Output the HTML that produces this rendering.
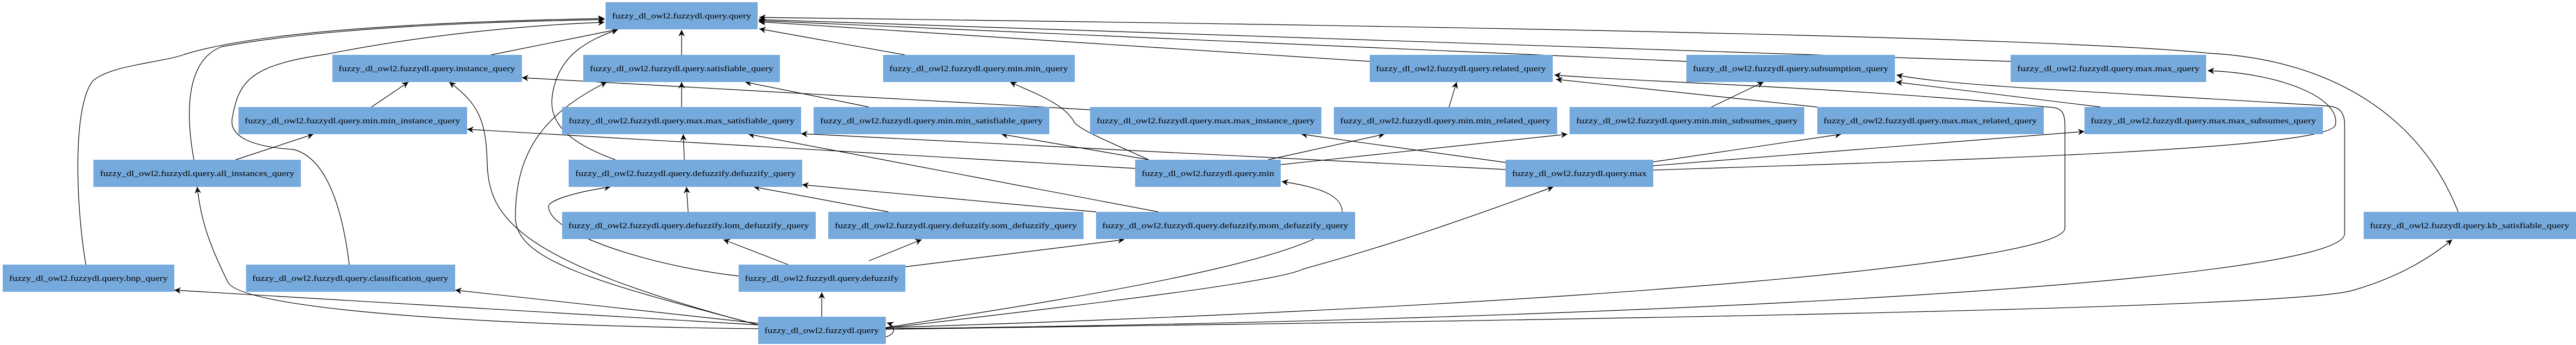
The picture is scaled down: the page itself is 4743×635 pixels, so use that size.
<!DOCTYPE html>
<html><head><meta charset="utf-8"><style>
html,body{margin:0;padding:0;background:#fff;}
svg{display:block;}
text{font-family:"Liberation Serif",serif;font-size:15px;fill:#000;}
</style></head><body>
<svg width="4743" height="635" viewBox="0 0 4743 635" xmlns="http://www.w3.org/2000/svg">
<defs>
<marker id="a" markerUnits="userSpaceOnUse" markerWidth="14" markerHeight="12" refX="12" refY="6" orient="auto">
<path d="M0,0 L12,6 L0,12 L4,6 Z" fill="#000"/>
</marker>
</defs>
<g fill="none" stroke="#000" stroke-width="1.2" marker-end="url(#a)">
<path d="M904,101 L1138,54"/>
<path d="M1255,101 L1255,55"/>
<path d="M1666,101 L1398,53"/>
<path d="M2522,113 L1397,40"/>
<path d="M3105,113 L1397,38"/>
<path d="M3702,113 L1397,36"/>
<path d="M4526,390 C4460,220 4300,110 4067,98 C3700,60 2000,40 1398,32"/>
<path d="M357,294 C340,200 345,110 408,86 C600,50 900,40 1113,36"/>
<path d="M158,487 C140,380 133,200 170,150 C200,120 300,115 340,100 C500,50 900,38 1113,34"/>
<path d="M643,487 C630,380 600,290 540,275 C460,270 420,250 428,215 C440,150 460,120 600,100 C800,60 1000,45 1113,41"/>
<path d="M1133,294 C1010,250 1010,200 1020,160 C1035,100 1080,75 1138,54"/>
<path d="M1396,598 C1100,520 949,480 949,400 C949,280 1000,210 1117,151"/>
<path d="M1388,596 C950,480 900,400 897,300 C895,220 880,190 827,151"/>
<path d="M1396,605 C900,600 450,570 420,520 C380,440 370,400 363,344"/>
<path d="M1396,598 L321,534"/>
<path d="M1396,595 L838,534"/>
<path d="M434,294 L577,247"/>
<path d="M2090,310 L860,238"/>
<path d="M684,197 L752,151"/>
<path d="M2007,202 L961,143"/>
<path d="M1255,197 L1255,151"/>
<path d="M1600,197 L1372,151"/>
<path d="M1260,294 L1258,247"/>
<path d="M2772,312 L1475,246"/>
<path d="M2133,390 L1378,247"/>
<path d="M1267,390 L1264,344"/>
<path d="M1636,390 L1388,344"/>
<path d="M2018,390 L1477,340"/>
<path d="M1360,508 C1200,490 1010,430 1010,380 C1010,370 1050,355 1124,344"/>
<path d="M1451,487 L1332,441"/>
<path d="M1600,480 L1697,441"/>
<path d="M1667,491 L2070,441"/>
<path d="M1513,583 L1513,538"/>
<path d="M2115,294 C2040,260 1990,240 1978,225 C1960,190 1900,170 1860,151"/>
<path d="M2115,294 L1844,247"/>
<path d="M2335,294 L2549,247"/>
<path d="M2358,303 L2886,247"/>
<path d="M2772,299 L2396,247"/>
<path d="M2668,197 L2682,151"/>
<path d="M3346,197 L2865,146"/>
<path d="M3151,197 L3247,151"/>
<path d="M3868,197 L3491,151"/>
<path d="M3044,298 L3390,247"/>
<path d="M3044,305 L3838,242"/>
<path d="M1631,603 C1900,560 2450,480 2470,400 C2480,360 2430,345 2360,334"/>
<path d="M1631,604 C2000,560 2350,520 2400,495 C2600,440 2760,380 2860,344"/>
<path d="M1631,606 C2800,590 4200,570 4330,535 C4420,510 4480,470 4515,441"/>
<path d="M1631,603 C3000,560 3802,480 3802,420 L3802,230 C3802,200 3790,198 3770,197 C3400,160 3000,150 2862,138"/>
<path d="M1631,605 C3000,590 4317,520 4317,430 L4317,230 C4317,200 4300,196 4285,195 C3900,170 3600,160 3492,138"/>
<path d="M3044,313 C3600,295 4290,275 4300,230 C4310,180 4200,135 4065,130"/>
<path d="M1631,620 C1650,615 1650,600 1633,594"/>
</g>
<g fill="#76a9dc">
<rect x="1115" y="4" width="280" height="50"/>
<rect x="612" y="101" width="349" height="50"/>
<rect x="1074" y="101" width="362" height="50"/>
<rect x="1626" y="101" width="353" height="50"/>
<rect x="2522" y="101" width="337" height="50"/>
<rect x="3105" y="101" width="384" height="50"/>
<rect x="3702" y="101" width="360" height="50"/>
<rect x="439" y="197" width="421" height="50"/>
<rect x="1035" y="197" width="440" height="50"/>
<rect x="1498" y="197" width="434" height="50"/>
<rect x="2007" y="197" width="426" height="50"/>
<rect x="2456" y="197" width="411" height="50"/>
<rect x="2890" y="197" width="432" height="50"/>
<rect x="3346" y="197" width="417" height="50"/>
<rect x="3838" y="197" width="439" height="50"/>
<rect x="172" y="294" width="382" height="50"/>
<rect x="1047" y="294" width="430" height="50"/>
<rect x="2090" y="294" width="268" height="50"/>
<rect x="2772" y="294" width="272" height="50"/>
<rect x="1035" y="390" width="467" height="50"/>
<rect x="1525" y="390" width="470" height="50"/>
<rect x="2018" y="390" width="477" height="50"/>
<rect x="4352" y="390" width="391" height="50"/>
<rect x="5" y="487" width="316" height="50"/>
<rect x="453" y="487" width="385" height="50"/>
<rect x="1360" y="487" width="307" height="50"/>
<rect x="1396" y="583" width="235" height="50"/>
</g>
<g text-anchor="middle" lengthAdjust="spacingAndGlyphs">
<text x="1255" y="34" textLength="256" lengthAdjust="spacingAndGlyphs">fuzzy_dl_owl2.fuzzydl.query.query</text>
<text x="786" y="131" textLength="325" lengthAdjust="spacingAndGlyphs">fuzzy_dl_owl2.fuzzydl.query.instance_query</text>
<text x="1255" y="131" textLength="338" lengthAdjust="spacingAndGlyphs">fuzzy_dl_owl2.fuzzydl.query.satisfiable_query</text>
<text x="1802" y="131" textLength="329" lengthAdjust="spacingAndGlyphs">fuzzy_dl_owl2.fuzzydl.query.min.min_query</text>
<text x="2690" y="131" textLength="313" lengthAdjust="spacingAndGlyphs">fuzzy_dl_owl2.fuzzydl.query.related_query</text>
<text x="3297" y="131" textLength="360" lengthAdjust="spacingAndGlyphs">fuzzy_dl_owl2.fuzzydl.query.subsumption_query</text>
<text x="3882" y="131" textLength="336" lengthAdjust="spacingAndGlyphs">fuzzy_dl_owl2.fuzzydl.query.max.max_query</text>
<text x="649" y="227" textLength="397" lengthAdjust="spacingAndGlyphs">fuzzy_dl_owl2.fuzzydl.query.min.min_instance_query</text>
<text x="1255" y="227" textLength="416" lengthAdjust="spacingAndGlyphs">fuzzy_dl_owl2.fuzzydl.query.max.max_satisfiable_query</text>
<text x="1715" y="227" textLength="410" lengthAdjust="spacingAndGlyphs">fuzzy_dl_owl2.fuzzydl.query.min.min_satisfiable_query</text>
<text x="2220" y="227" textLength="402" lengthAdjust="spacingAndGlyphs">fuzzy_dl_owl2.fuzzydl.query.max.max_instance_query</text>
<text x="2661" y="227" textLength="387" lengthAdjust="spacingAndGlyphs">fuzzy_dl_owl2.fuzzydl.query.min.min_related_query</text>
<text x="3106" y="227" textLength="408" lengthAdjust="spacingAndGlyphs">fuzzy_dl_owl2.fuzzydl.query.min.min_subsumes_query</text>
<text x="3554" y="227" textLength="393" lengthAdjust="spacingAndGlyphs">fuzzy_dl_owl2.fuzzydl.query.max.max_related_query</text>
<text x="4057" y="227" textLength="415" lengthAdjust="spacingAndGlyphs">fuzzy_dl_owl2.fuzzydl.query.max.max_subsumes_query</text>
<text x="363" y="324" textLength="358" lengthAdjust="spacingAndGlyphs">fuzzy_dl_owl2.fuzzydl.query.all_instances_query</text>
<text x="1262" y="324" textLength="406" lengthAdjust="spacingAndGlyphs">fuzzy_dl_owl2.fuzzydl.query.defuzzify.defuzzify_query</text>
<text x="2224" y="324" textLength="244" lengthAdjust="spacingAndGlyphs">fuzzy_dl_owl2.fuzzydl.query.min</text>
<text x="2908" y="324" textLength="248" lengthAdjust="spacingAndGlyphs">fuzzy_dl_owl2.fuzzydl.query.max</text>
<text x="1268" y="420" textLength="443" lengthAdjust="spacingAndGlyphs">fuzzy_dl_owl2.fuzzydl.query.defuzzify.lom_defuzzify_query</text>
<text x="1760" y="420" textLength="446" lengthAdjust="spacingAndGlyphs">fuzzy_dl_owl2.fuzzydl.query.defuzzify.som_defuzzify_query</text>
<text x="2256" y="420" textLength="453" lengthAdjust="spacingAndGlyphs">fuzzy_dl_owl2.fuzzydl.query.defuzzify.mom_defuzzify_query</text>
<text x="4547" y="420" textLength="367" lengthAdjust="spacingAndGlyphs">fuzzy_dl_owl2.fuzzydl.query.kb_satisfiable_query</text>
<text x="163" y="517" textLength="292" lengthAdjust="spacingAndGlyphs">fuzzy_dl_owl2.fuzzydl.query.bnp_query</text>
<text x="645" y="517" textLength="361" lengthAdjust="spacingAndGlyphs">fuzzy_dl_owl2.fuzzydl.query.classification_query</text>
<text x="1513" y="517" textLength="283" lengthAdjust="spacingAndGlyphs">fuzzy_dl_owl2.fuzzydl.query.defuzzify</text>
<text x="1513" y="613" textLength="211" lengthAdjust="spacingAndGlyphs">fuzzy_dl_owl2.fuzzydl.query</text>
</g>
</svg>
</body></html>
